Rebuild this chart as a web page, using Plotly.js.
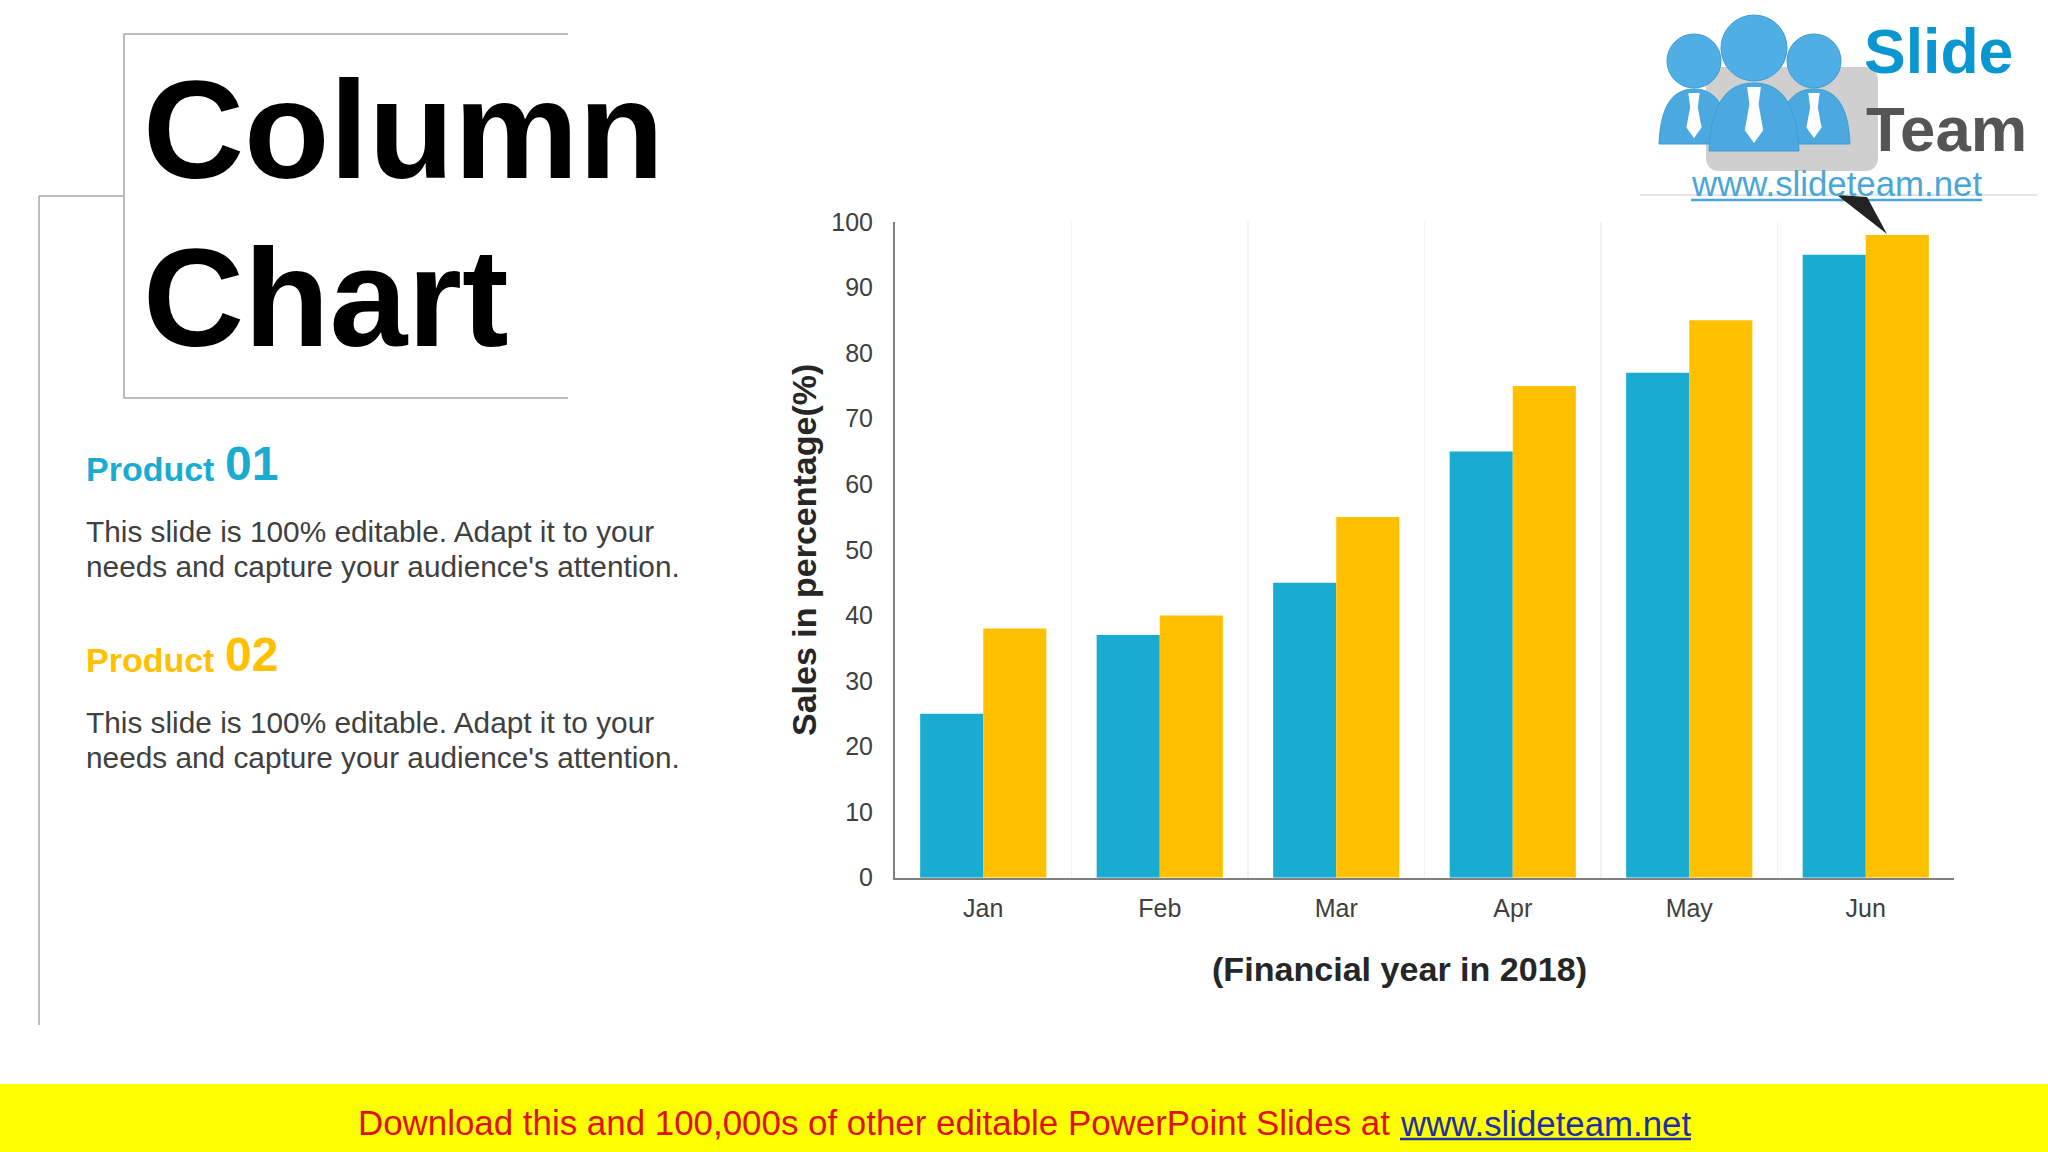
<!DOCTYPE html>
<html><head><meta charset="utf-8">
<script src="https://cdn.plot.ly/plotly-3.0.1.min.js"></script>
<style>html,body{margin:0;padding:0;background:#fff}#c{width:2048px;height:1152px}</style>
</head><body><div id="c"></div>
<script>
const months = ['Jan','Feb','Mar','Apr','May','Jun'];
const product01 = [25,37,45,65,77,95];
const product02 = [38,40,55,75,85,98];
const yTicks = [0,10,20,30,40,50,60,70,80,90,100];
const bodyLines = ["This slide is 100% editable. Adapt it to your","needs and capture your audience's attention."];

const W=2048,H=1152,FONT='"Liberation Sans", Arial, sans-serif';
const BLUE='#19ACD0',GOLD='#FFC000',DARK='#404040';
const fx=x=>x/W, fy=y=>1-y/H;
const P=(x,y)=>fx(x)+','+fy(y);

function txt(text,x,base,size,color,opt={}){
  return Object.assign({text:text,xref:'paper',yref:'paper',x:fx(x),y:fy(base-0.905*size),
    xanchor:'left',yanchor:'top',showarrow:false,borderpad:0,borderwidth:0,
    font:{family:FONT,size:size,color:color}},opt);
}
function line(x0,y0,x1,y1,color='#a6a6a6',w=1.5){
  return {type:'line',xref:'paper',yref:'paper',x0:fx(x0),y0:fy(y0),x1:fx(x1),y1:fy(y1),line:{color:color,width:w}};
}
function path(d,fill,lc){
  return {type:'path',xref:'paper',yref:'paper',path:d,fillcolor:fill,line:{color:lc||fill,width:lc?1:0}};
}
function rect(x0,y0,x1,y1,fill){
  return {type:'rect',xref:'paper',yref:'paper',x0:fx(x0),y0:fy(y0),x1:fx(x1),y1:fy(y1),fillcolor:fill,line:{width:0}};
}
function circle(cx,cy,r,fill){
  return {type:'circle',xref:'paper',yref:'paper',x0:fx(cx-r),x1:fx(cx+r),y0:fy(cy-r),y1:fy(cy+r),fillcolor:fill,line:{color:'#3E9BD4',width:1}};
}
function body(c,hw,top,base){
  const h=base-top;
  return path(`M${P(c-hw,base)} C${P(c-hw*0.95,top+h*0.2)} ${P(c-hw*0.5,top)} ${P(c,top)} C${P(c+hw*0.5,top)} ${P(c+hw*0.95,top+h*0.2)} ${P(c+hw,base)} Z`,'#4BA9E0','#3E9BD4');
}
function tie(c,top,bot,s){
  return path(`M${P(c-6*s,top)} L${P(c+6*s,top)} L${P(c+4*s,top+15*s)} L${P(c+8*s,bot-11*s)} L${P(c,bot)} L${P(c-8*s,bot-11*s)} L${P(c-4*s,top+15*s)} Z`,'#ffffff');
}
function rrect(x0,y0,x1,y1,r,fill){
  return path(`M${P(x0+r,y0)} L${P(x1-r,y0)} Q${P(x1,y0)} ${P(x1,y0+r)} L${P(x1,y1-r)} Q${P(x1,y1)} ${P(x1-r,y1)} L${P(x0+r,y1)} Q${P(x0,y1)} ${P(x0,y1-r)} L${P(x0,y0+r)} Q${P(x0,y0)} ${P(x0+r,y0)} Z`,fill);
}

const shapes=[
  line(124,34,568,34), line(124,34,124,398), line(124,398,568,398),
  line(39,196,124,196), line(39,196,39,1025),
  rect(0,1084,2048,1152,'#FFFF00'),
  line(1400,1139,1691,1139,'#1F2FA8',2.5),
  line(1640,195,2037,195,'#dcdcdc',1.5),
  rrect(1706,67,1878,171,14,'#cfcfcf'),
  body(1694,35,89,144), body(1814,36,89,144),
  circle(1694,61,27,'#4FAEE3'), circle(1814,61,27,'#4FAEE3'), circle(1754,48,33,'#4FAEE3'),
  body(1754,45,83,151),
  tie(1694,93,138,0.95), tie(1814,93,138,0.95), tie(1754,87,143,1.15),
  line(1691,200,1982,200,'#4BA6D8',2.5),
  path(`M${P(1837,195)} L${P(1867,197)} L${P(1887,234)} Z`,'#222222'),
];

const annotations=[
  txt('<b>Column</b>',143,178,140,'#000000'),
  txt('<b>Chart</b>',143,346,140,'#000000'),
  txt('<b>Product</b>',86,481,34,BLUE),
  txt('<b>01</b>',225,480,48,BLUE),
  txt(bodyLines[0],86,542,29.8,DARK),
  txt(bodyLines[1],86,577,29.8,DARK),
  txt('<b>Product</b>',86,672,34,GOLD),
  txt('<b>02</b>',225,671,48,GOLD),
  txt(bodyLines[0],86,733,29.8,DARK),
  txt(bodyLines[1],86,768,29.8,DARK),
  txt('<b>(Financial year in 2018)</b>',1212,981,34.1,'#262626'),
  txt('Download this and 100,000s of other editable PowerPoint Slides at',358,1135,34.9,'#E01010'),
  txt('www.slideteam.net',1400,1135,34.8,'#1F2FA8'),
  txt('<b>Slide</b>',1864,73,62.5,'#0A96D0'),
  txt('<b>Team</b>',1866,151,63.5,'#555555'),
  txt('www.slideteam.net',1691,195,34.8,'#4BA6D8'),
];

const traces=[
  {type:'bar',name:'Product 01',x:months,y:product01,marker:{color:BLUE,line:{width:0}},hoverinfo:'skip'},
  {type:'bar',name:'Product 02',x:months,y:product02,marker:{color:GOLD,line:{width:0}},hoverinfo:'skip'}
];
const layout={
  width:W,height:H,margin:{l:0,r:0,t:0,b:0,pad:0},
  paper_bgcolor:'#ffffff',plot_bgcolor:'rgba(0,0,0,0)',
  showlegend:false,barmode:'group',bargap:0.285,bargroupgap:0,
  font:{family:FONT,color:DARK},
  xaxis:{domain:[895/W,1954/W],type:'category',categoryorder:'array',categoryarray:months,
    tickson:'boundaries',showgrid:true,gridcolor:'#f2f2f2',gridwidth:1.5,
    showline:true,linecolor:'#7f7f7f',linewidth:2,ticks:'',tickfont:{family:FONT,size:25,color:DARK},
    ticklabelstandoff:7,zeroline:false,anchor:'y'},
  yaxis:{domain:[1-877.7/H,1-222/H],range:[0,100],tickmode:'array',tickvals:yTicks,ticktext:yTicks.map(String),
    showgrid:false,zeroline:false,showline:true,linecolor:'#7f7f7f',linewidth:2,ticks:'',
    tickfont:{family:FONT,size:25,color:DARK},ticklabelstandoff:15,anchor:'x',automargin:false,
    title:{text:'<b>Sales in percentage(%)</b>',font:{family:FONT,size:34,color:'#262626'},standoff:4}},
  shapes:shapes,annotations:annotations
};
Plotly.newPlot('c',traces,layout,{displayModeBar:false,staticPlot:true});
</script></body></html>
